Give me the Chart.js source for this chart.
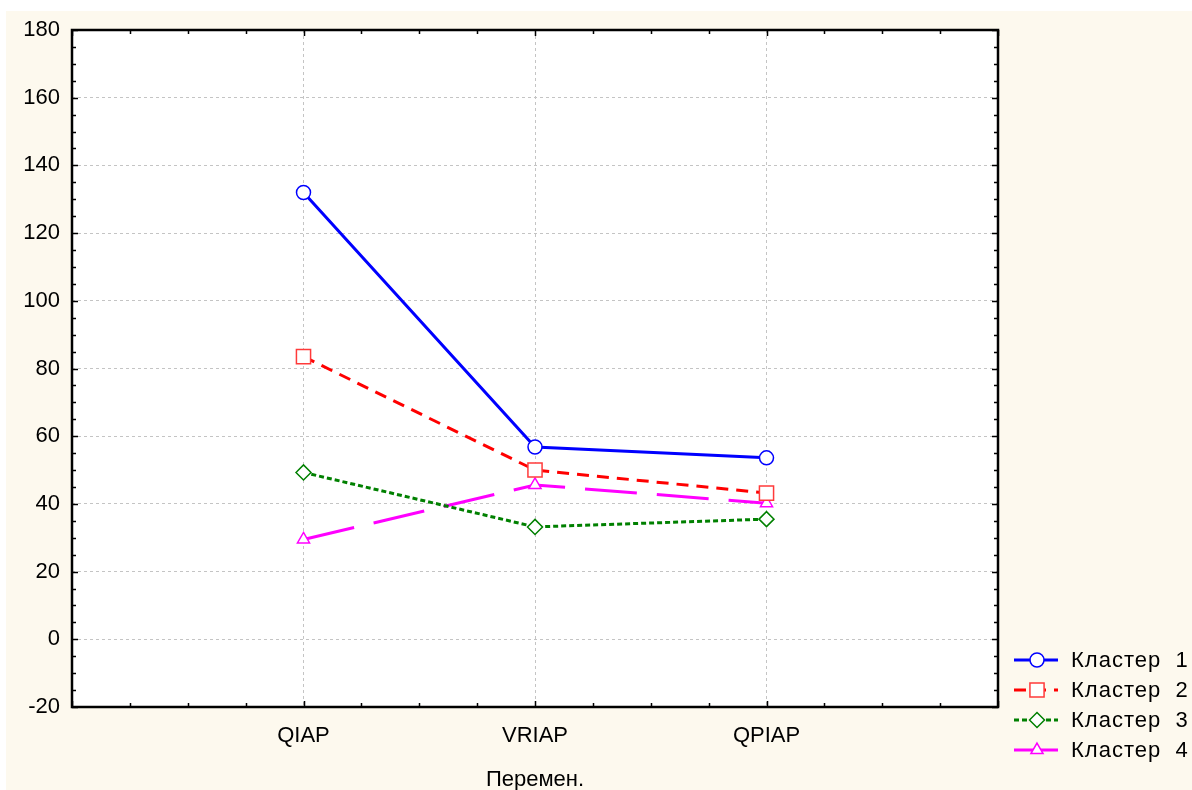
<!DOCTYPE html>
<html>
<head>
<meta charset="utf-8">
<script src="https://cdn.jsdelivr.net/npm/chart.js@4.4.1/dist/chart.umd.min.js"></script>
<style>
    html, body { margin: 0; padding: 0; background: #ffffff; }
    canvas { display: block; }
</style>
</head>
<body>
<canvas id="cluster-chart" width="1192" height="790"></canvas>
<script>
// Средние значения по кластерам
const categories = ['QIAP', 'VRIAP', 'QPIAP'];
const cluster1 = [132, 56.8, 53.6];
const cluster2 = [83.5, 50, 43.2];
const cluster3 = [49.3, 33.2, 35.5];
const cluster4 = [29.5, 45.6, 40.2];
const seriesNames = ['Кластер 1', 'Кластер 2', 'Кластер 3', 'Кластер 4'];
const yMin = -20;
const yMax = 180;
const yStep = 20;
const xTitle = 'Перемен.';

const FONT = "'Liberation Sans', Arial, sans-serif";
const CREAM = '#fdf9ee';
const GRID = '#c4c4c4';

const styles = [
    { color: '#0000ff', marker: '#0000ff', dash: [], point: 'circle', r: 7 },
    { color: '#ff0000', marker: '#ff3a3a', dash: [12, 8], point: 'rect', r: 10 },
    { color: '#008000', marker: '#008000', dash: [5, 3], point: 'rectRot', r: 7.5 },
    { color: '#ff00ff', marker: '#ff00ff', dash: [52, 20], point: 'triangle', r: 7 }
];

function toPoints(values) {
    return values.map((v, i) => ({ x: i + 1, y: v }));
}

const allSeries = [cluster1, cluster2, cluster3, cluster4];

const datasets = allSeries.map((vals, i) => ({
    label: seriesNames[i],
    data: toPoints(vals),
    borderColor: styles[i].color,
    borderWidth: 3,
    borderDash: styles[i].dash,
    pointStyle: styles[i].point,
    pointRadius: styles[i].r,
    pointBorderColor: styles[i].marker,
    pointBorderWidth: 1.5,
    pointBackgroundColor: '#ffffff',
    tension: 0
}));

// Фон, рамка, мелкие засечки и легенда
const framePlugin = {
    id: 'frame',
    beforeDraw(chart) {
        const { ctx, chartArea: a } = chart;
        ctx.save();
        ctx.fillStyle = '#ffffff';
        ctx.fillRect(0, 0, chart.width, chart.height);
        ctx.fillStyle = CREAM;
        ctx.fillRect(6, 11, chart.width - 6, chart.height - 11);
        ctx.fillStyle = '#ffffff';
        ctx.fillRect(a.left, a.top, a.right - a.left, a.bottom - a.top);
        ctx.restore();
    },
    afterDraw(chart) {
        const { ctx, chartArea: a } = chart;
        const xs = chart.scales.x;
        const ys = chart.scales.y;
        ctx.save();
        ctx.strokeStyle = '#000000';
        ctx.lineWidth = 1.5;
        ctx.beginPath();
        for (let v = yMin; v <= yMax; v += 5) {
            const y = Math.round(ys.getPixelForValue(v)) + 0.5;
            const len = (v % yStep === 0) ? 6 : 4;
            ctx.moveTo(a.left, y); ctx.lineTo(a.left + len, y);
            ctx.moveTo(a.right, y); ctx.lineTo(a.right - len, y);
        }
        for (let v = 0; v <= 4; v += 0.25) {
            const x = Math.round(xs.getPixelForValue(v)) + 0.5;
            const len = (v % 1 === 0) ? 6 : 4;
            ctx.moveTo(x, a.bottom); ctx.lineTo(x, a.bottom - len);
            ctx.moveTo(x, a.top); ctx.lineTo(x, a.top + len);
        }
        ctx.stroke();

        ctx.lineWidth = 2.5;
        ctx.strokeRect(a.left, a.top, a.right - a.left, a.bottom - a.top);

        // легенда
        const lx0 = 1014, lx1 = 1058, mx = 1037, tx = 1071;
        ctx.font = '22px ' + FONT;
        ctx.letterSpacing = '1px';
        ctx.textBaseline = 'middle';
        ctx.textAlign = 'left';
        styles.forEach((s, i) => {
            const y = 660 + i * 30;
            ctx.strokeStyle = s.color;
            ctx.lineWidth = 3;
            ctx.setLineDash(s.dash);
            ctx.beginPath();
            ctx.moveTo(lx0, y);
            ctx.lineTo(lx1, y);
            ctx.stroke();
            ctx.setLineDash([]);
            ctx.fillStyle = '#ffffff';
            ctx.strokeStyle = s.marker;
            ctx.lineWidth = 1.5;
            Chart.helpers.drawPoint(ctx, { pointStyle: s.point, radius: s.r, rotation: 0, borderWidth: 1.5 }, mx, y);
            ctx.fillStyle = '#000000';
            ctx.fillText(seriesNames[i].replace(' ', '  '), tx, y + 1);
        });
        ctx.restore();
    }
};

const ctx = document.getElementById('cluster-chart');
new Chart(ctx, {
    type: 'line',
    data: { datasets: datasets },
    options: {
        responsive: false,
        animation: false,
        layout: { padding: { top: 30, right: 194, left: 0, bottom: 0 } },
        plugins: {
            legend: { display: false },
            tooltip: { enabled: false }
        },
        scales: {
            x: {
                type: 'linear',
                min: 0,
                max: 4,
                afterFit: (s) => { s.height = 83; },
                border: { display: false, dash: [3, 3] },
                grid: {
                    drawTicks: false,
                    color: (c) => (c.tick && c.tick.value > 0 && c.tick.value < 4) ? GRID : 'rgba(0,0,0,0)',
                    lineWidth: 1
                },
                ticks: {
                    stepSize: 1,
                    autoSkip: false,
                    maxRotation: 0,
                    padding: 16,
                    color: '#000000',
                    font: { family: FONT, size: 22 },
                    callback: (v) => categories[v - 1] || ''
                },
                title: {
                    display: true,
                    text: xTitle,
                    color: '#000000',
                    font: { family: FONT, size: 22 },
                    padding: { top: 0, bottom: -3 }
                }
            },
            y: {
                min: yMin,
                max: yMax,
                afterFit: (s) => { s.width = 72; },
                border: { display: false, dash: [3, 3] },
                grid: {
                    drawTicks: false,
                    color: GRID,
                    lineWidth: 1
                },
                ticks: {
                    stepSize: yStep,
                    padding: 12,
                    color: '#000000',
                    font: { family: FONT, size: 22 }
                }
            }
        }
    },
    plugins: [framePlugin]
});
</script>
</body>
</html>
